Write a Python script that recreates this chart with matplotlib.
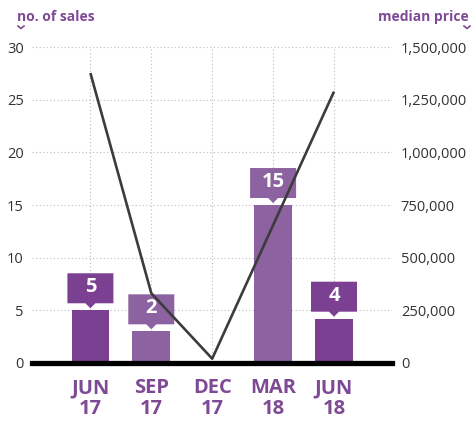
import matplotlib.pyplot as plt
import matplotlib.transforms as mtrans
from matplotlib.patches import Polygon
from matplotlib.lines import Line2D
from matplotlib.ticker import FuncFormatter

plt.rcParams['font.family'] = ['Open Sans', 'DejaVu Sans']

# data
quarters = ['JUN\n17', 'SEP\n17', 'DEC\n17', 'MAR\n18', 'JUN\n18']
sales = [5, 3, 0, 15, 4.2]
sales_labels = ['5', '2', '', '15', '4']
median_price = [1377000, 331000, 20000, None, 1289000]
bar_colors = ['#7b4091', '#8d62a1', '#8d62a1', '#8d62a1', '#7b4091']

purple = '#7e4a96'
txt = '#333333'

fig = plt.figure(figsize=(4.74, 4.21), dpi=100)
ax = fig.add_axes([0.068, 0.138, 0.76, 0.75])
ax2 = ax.twinx()

xs = list(range(len(quarters)))
ax.bar(xs, sales, width=0.62, color=bar_colors, zorder=2)

# value boxes with a little pointer, drawn in pixel offsets above each bar
for x, h, lab, c in zip(xs, sales, sales_labels, bar_colors):
    if not lab:
        continue
    tr = fig.dpi_scale_trans + mtrans.ScaledTranslation(x, h, ax.transData)
    pts = [(-23, 7), (-5, 7), (0, 2), (5, 7), (23, 7), (23, 37), (-23, 37)]
    poly = Polygon([(px / 100, py / 100) for px, py in pts], closed=True,
                   transform=tr, facecolor=c, edgecolor='none', zorder=4)
    ax.add_patch(poly)
    ax.text(0, 0.23, lab, transform=tr, ha='center', va='center',
            color='white', fontsize=14.5, fontweight='bold', zorder=5)

ax.set_xlim(-0.955, 4.96)
ax.set_ylim(0, 30)
ax.set_yticks(range(0, 31, 5))
ax.set_xticks(xs)
ax.set_xticklabels(quarters, color=purple, fontsize=14.5, fontweight='bold',
                   linespacing=1.05)
ax.tick_params(axis='x', length=0, pad=11)
ax.tick_params(axis='y', length=0, labelsize=10.5, labelcolor=txt, pad=6)
ax.grid(True, color='#bdbdbd', linestyle=(0, (1, 2.2)), linewidth=0.8)
ax.set_axisbelow(True)
for s in ax.spines.values():
    s.set_visible(False)
ax.axhline(0, color='black', linewidth=3.8, zorder=3, clip_on=False)

# median price line (MAR 18 missing)
px = [x for x, v in zip(xs, median_price) if v is not None]
pv = [v for v in median_price if v is not None]
ax2.plot(px, pv, color='#3c3c3c', linewidth=1.9, zorder=6,
         solid_capstyle='butt')
ax2.set_ylim(0, 1500000)
ax2.set_yticks(range(0, 1500001, 250000))
ax2.yaxis.set_major_formatter(FuncFormatter(lambda v, p: f'{int(v):,}'))
ax2.tick_params(axis='y', length=0, labelsize=10.5, labelcolor=txt, pad=6)
for s in ax2.spines.values():
    s.set_visible(False)

# axis titles with tiny chevrons
fig.text(17 / 474, 1 - 17 / 421, 'no. of sales', color=purple, fontsize=10,
         fontweight='bold', ha='left', va='center')
fig.text(469 / 474, 1 - 17 / 421, 'median price', color=purple, fontsize=10,
         fontweight='bold', ha='right', va='center')
for cx in (21, 467):
    fig.add_artist(Line2D([(cx - 3) / 474, cx / 474, (cx + 3) / 474],
                          [1 - 26 / 421, 1 - 28.5 / 421, 1 - 26 / 421],
                          color=purple, linewidth=1.2))

fig.savefig('out.png', dpi=100)
